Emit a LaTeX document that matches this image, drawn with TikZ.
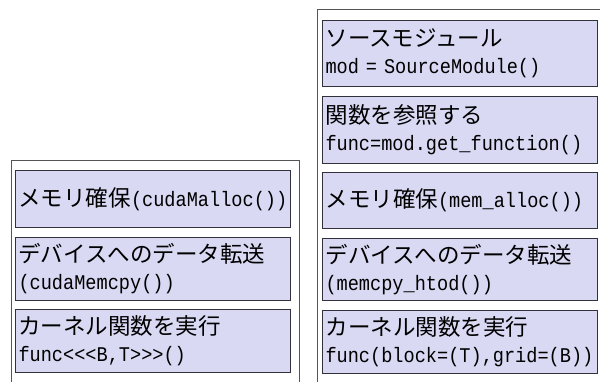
\documentclass[tikz,border=0pt]{standalone}
\usepackage{fontspec}
\newfontfamily\Jfont{Noto Sans CJK JP}
\newfontfamily\Mfont[FakeStretch=0.89]{Liberation Mono}
\definecolor{boxfill}{RGB}{217,217,244}
\definecolor{boxline}{RGB}{50,50,60}
\definecolor{frameline}{RGB}{85,85,85}
\newcommand\jt[1]{{\Jfont\fontsize{22.5}{27}\selectfont #1}}
\newcommand\mt[1]{{\Mfont\fontsize{20.9}{27}\selectfont #1}}
\begin{document}
\begin{tikzpicture}[x=1pt,y=-1pt,
  stepbox/.style={draw=boxline, fill=boxfill, line width=1pt, anchor=north west,
    align=left, inner xsep=3pt, inner ysep=0pt, text width=269pt,
    font=\fontsize{20.9}{27}\selectfont},
  framestyle/.style={draw=frameline, line width=0.8pt}]
\useasboundingbox (0,0) rectangle (600,381);
\begin{scope}
\clip (0,0) rectangle (600,381);
% frames
\draw[framestyle] (11,385) |- (299,160) -- (299,385);
\draw[framestyle] (317,385) |- (605,9);
% left boxes
\node[stepbox, minimum height=57pt] (l1) at (15,170) {\jt{メモリ確保}\mt{(cudaMalloc())}};
\node[stepbox, minimum height=63pt] (l2) at (15,237) {\jt{デバイスへのデータ転送}\\\mt{(cudaMemcpy())}};
\node[stepbox, minimum height=63pt] (l3) at (15,309) {\jt{カーネル関数を実行}\\\mt{func<<<B,T>>>()}};
% right boxes
\node[stepbox, minimum height=66pt] (r1) at (322,20) {\jt{ソースモジュール}\\\mt{mod = SourceModule()}};
\node[stepbox, minimum height=67pt] (r2) at (322,96) {\jt{関数を参照する}\\\mt{func=mod.get\_function()}};
\node[stepbox, minimum height=56pt] (r3) at (322,172) {\jt{メモリ確保}\mt{(mem\_alloc())}};
\node[stepbox, minimum height=62pt] (r4) at (322,238) {\jt{デバイスへのデータ転送}\\\mt{(memcpy\_htod())}};
\node[stepbox, minimum height=63pt] (r5) at (322,310) {\jt{カーネル関数を実行}\\\mt{func(block=(T),grid=(B))}};
\end{scope}
\end{tikzpicture}
\end{document}
